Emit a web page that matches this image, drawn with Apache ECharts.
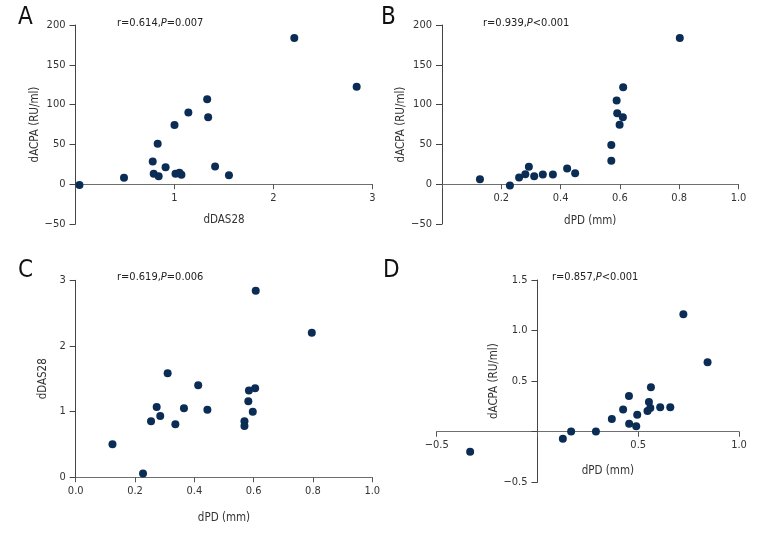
<!DOCTYPE html>
<html><head><meta charset="utf-8">
<script src="https://cdn.jsdelivr.net/npm/echarts@6/dist/echarts.min.js"></script>
<style>html,body{margin:0;padding:0;background:#fff}#c{width:780px;height:540px}</style>
</head><body><div id="c"></div>
<script>
// Panel A: dDAS28 vs dACPA
var aX = [0.04,0.49,0.78,0.79,0.83,0.84,0.91,1.00,1.01,1.05,1.07,1.14,1.33,1.34,1.41,1.55,2.21,2.84];
var aY = [-1,8,28.6,13,50.8,10,21.4,74.4,13,14.3,11.8,90,106.7,84,22.3,11.3,183.6,122.3];
// Panel B: dPD vs dACPA
var bX = [0.128,0.229,0.26,0.281,0.293,0.311,0.34,0.374,0.422,0.449,0.571,0.571,0.589,0.591,0.599,0.61,0.611,0.802];
var bY = [6.3,-1.7,8.4,12.6,21.8,10.1,12.2,12.2,19.7,13.9,29.4,49.2,105,89,74.8,84,121.8,183.6];
// Panel C: dPD vs dDAS28
var cX = [0.124,0.227,0.254,0.273,0.285,0.31,0.336,0.365,0.413,0.444,0.569,0.569,0.582,0.584,0.597,0.605,0.607,0.796];
var cY = [0.503,0.056,0.853,1.071,0.934,1.584,0.807,1.05,1.40,1.03,0.853,0.78,1.157,1.32,1.0,1.355,2.84,2.20];
// Panel D: dPD vs dACPA
var dX = [-0.334,0.126,0.167,0.29,0.369,0.425,0.454,0.455,0.49,0.495,0.546,0.553,0.56,0.563,0.609,0.659,0.724,0.844];
var dY = [-0.197,-0.069,0.003,0.003,0.125,0.22,0.352,0.079,0.053,0.168,0.204,0.293,0.234,0.44,0.243,0.243,1.161,0.688];

var panelLetters = ['A','B','C','D'];
var statTexts = [['0.614','=0.007'],['0.939','<0.001'],['0.619','=0.006'],['0.857','<0.001']];
var xNames = ['dDAS28','dPD (mm)','dPD (mm)','dPD (mm)'];
var yNames = ['dACPA (RU/ml)','dACPA (RU/ml)','dDAS28','dACPA (RU/ml)'];

var FONT = '"Liberation Sans Narrow","DejaVu Sans Condensed","Liberation Sans",sans-serif';
var DOT = '#0b2d55';

function pair(xs, ys){ return xs.map(function(x,i){ return [x, ys[i]]; }); }
function fmtFn(dec, hideZero){
  return function(v){
    if (hideZero && Math.abs(v) < 1e-9) return '';
    var s = dec ? Math.abs(v).toFixed(dec) : String(Math.abs(v));
    return (v < 0 ? '\u2212' : '') + s;
  };
}
var grids = [
  {left:75.5, top:25, width:297, height:199},
  {left:442, top:25, width:296.5, height:199},
  {left:75.7, top:280.3, width:296.6, height:197},
  {left:436.7, top:280, width:302.3, height:202.3}
];
// axis ranges [min,max,interval,decimals,hideZero]
var xR = [[0,3,1,0,true],[0,1,0.2,1,true],[0,1,0.2,1,false],[-0.5,1,0.5,1,true]];
var yR = [[-50,200,50,0,false],[-50,200,50,0,false],[0,3,1,0,false],[-0.5,1.5,0.5,1,true]];
var xGap = [30,31,35,33];
var yGap = [31,26,27,26];

function xAx(i){
  var r = xR[i], yr = yR[i], g = grids[i];
  var off = -(0 - yr[0]) / (yr[1] - yr[0]) * g.height; // put axis on y=0
  return {
    type:'value', gridIndex:i, min:r[0], max:r[1], interval:r[2], offset:off,
    splitLine:{show:false},
    axisLine:{onZero:false, lineStyle:{color:'#6f6f6f', width:1.2}},
    axisTick:{show:true, length:5, lineStyle:{color:'#555'}},
    axisLabel:{margin:8, fontFamily:FONT, fontSize:11, color:'#333', formatter: fmtFn(r[3], r[4])},
    name:xNames[i], nameLocation:'middle', nameGap:xGap[i],
    nameTextStyle:{fontFamily:FONT, fontSize:11.5, color:'#333', padding: i===3 ? [0,0,0,40] : 0}
  };
}
function yAx(i){
  var r = yR[i], xr = xR[i], g = grids[i];
  var off = -(0 - xr[0]) / (xr[1] - xr[0]) * g.width; // put axis on x=0
  return {
    type:'value', gridIndex:i, min:r[0], max:r[1], interval:r[2], offset:off,
    splitLine:{show:false},
    axisLine:{onZero:false, lineStyle:{color:'#444', width:1}},
    axisTick:{show:true, length:6, lineStyle:{color:'#444'}},
    axisLabel:{margin:10, fontFamily:FONT, fontSize:11, color:'#333', formatter: fmtFn(r[3], r[4])},
    name:yNames[i], nameLocation:'middle', nameGap:yGap[i], nameRotate:90,
    nameTextStyle:{fontFamily:FONT, fontSize:11.5, color:'#333'}
  };
}

var datasets = [pair(aX,aY), pair(bX,bY), pair(cX,cY), pair(dX,dY)];
var series = datasets.map(function(d,i){
  return {type:'scatter', xAxisIndex:i, yAxisIndex:i, data:d, symbolSize:8,
          itemStyle:{color:DOT, opacity:1}, emphasis:{disabled:true}, silent:true};
});

var letterPos = [[18,6],[381,6],[18,259],[383,259]];
var statPos = [[117,23],[483,23],[117,277],[552,277]];
var graphics = [];
panelLetters.forEach(function(L,i){
  graphics.push({type:'text', left:letterPos[i][0], top:letterPos[i][1],
    style:{text:L, fontFamily:FONT, fontSize:24, fill:'#111'}});
});
statTexts.forEach(function(s,i){
  graphics.push({type:'text', x:statPos[i][0], y:statPos[i][1],
    style:{text:'r='+s[0]+',{i|P}'+s[1], fontFamily:FONT, fontSize:11, fill:'#222', verticalAlign:'middle',
      rich:{i:{fontStyle:'italic', fontFamily:FONT, fontSize:11, fill:'#222'}}}});
});

var chart = echarts.init(document.getElementById('c'), null, {renderer:'canvas'});
chart.setOption({
  animation:false,
  backgroundColor:'#fff',
  grid:grids,
  xAxis:[0,1,2,3].map(xAx),
  yAxis:[0,1,2,3].map(yAx),
  series:series, graphic:graphics
});
</script></body></html>
